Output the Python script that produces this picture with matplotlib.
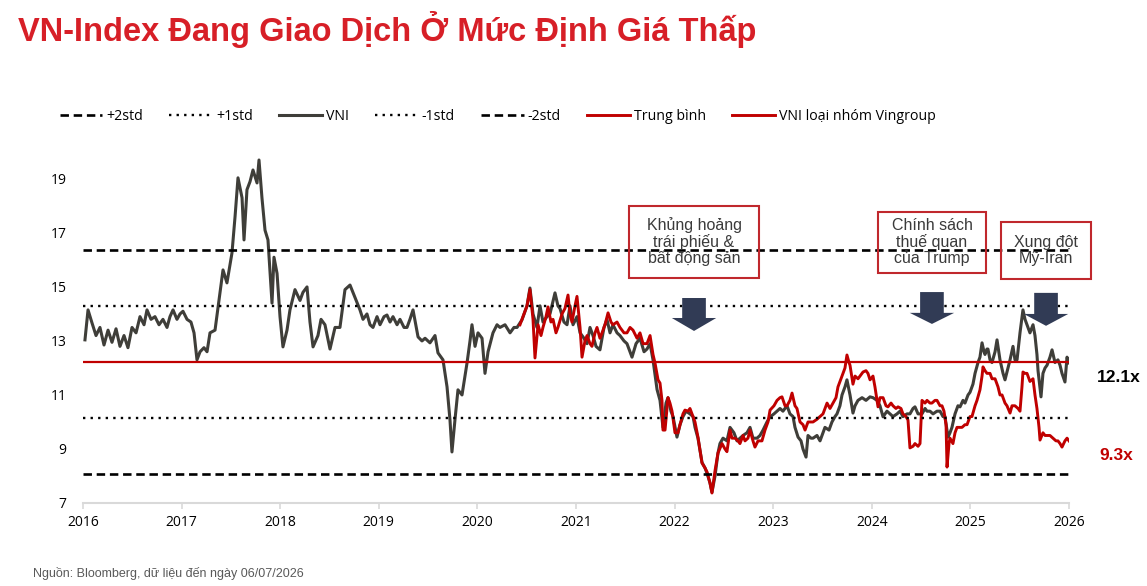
import matplotlib
matplotlib.use('Agg')
import numpy as np
import matplotlib.pyplot as plt
from matplotlib.lines import Line2D
from matplotlib.patches import Rectangle, Polygon

# --- data (decimal years, P/E multiple) ---
vni_t = [2016.020, 2016.051, 2016.091, 2016.132, 2016.172, 2016.213, 2016.254, 2016.294, 2016.335, 2016.375,
         2016.416, 2016.456, 2016.497, 2016.538, 2016.578, 2016.619, 2016.649, 2016.690, 2016.730, 2016.771,
         2016.811, 2016.852, 2016.882, 2016.913, 2016.953, 2016.984, 2017.014, 2017.055, 2017.095, 2017.126,
         2017.156, 2017.187, 2017.227, 2017.258, 2017.288, 2017.339, 2017.389, 2017.420, 2017.460, 2017.511,
         2017.542, 2017.572, 2017.613, 2017.633, 2017.663, 2017.694, 2017.724, 2017.765, 2017.785, 2017.815,
         2017.846, 2017.876, 2017.907, 2017.917, 2017.937, 2017.968, 2017.998, 2018.028, 2018.069, 2018.099,
         2018.150, 2018.201, 2018.231, 2018.272, 2018.302, 2018.333, 2018.383, 2018.414, 2018.454, 2018.505,
         2018.556, 2018.606, 2018.657, 2018.708, 2018.759, 2018.809, 2018.840, 2018.880, 2018.911, 2018.941,
         2018.982, 2019.012, 2019.053, 2019.083, 2019.114, 2019.144, 2019.185, 2019.215, 2019.256, 2019.286,
         2019.316, 2019.347, 2019.398, 2019.438, 2019.469, 2019.519, 2019.570, 2019.600, 2019.651, 2019.692,
         2019.722, 2019.742, 2019.773, 2019.803, 2019.844, 2019.895, 2019.925, 2019.945, 2019.976, 2020.006,
         2020.047, 2020.077, 2020.108, 2020.158, 2020.199, 2020.229, 2020.280, 2020.331, 2020.371, 2020.402,
         2020.452, 2020.503, 2020.533, 2020.564, 2020.604, 2020.635, 2020.665, 2020.706, 2020.736, 2020.787,
         2020.817, 2020.838, 2020.878, 2020.909, 2020.939, 2020.970, 2021.010, 2021.041, 2021.081, 2021.112,
         2021.142, 2021.172, 2021.203, 2021.243, 2021.284, 2021.314, 2021.345, 2021.375, 2021.416, 2021.446,
         2021.487, 2021.517, 2021.568, 2021.609, 2021.649, 2021.690, 2021.720, 2021.751, 2021.781, 2021.822,
         2021.852, 2021.882, 2021.913, 2021.933, 2021.963, 2021.984, 2022.024, 2022.055, 2022.085, 2022.116,
         2022.156, 2022.187, 2022.207, 2022.237, 2022.278, 2022.308, 2022.329, 2022.359, 2022.379, 2022.410,
         2022.440, 2022.460, 2022.491, 2022.531, 2022.562, 2022.602, 2022.633, 2022.663, 2022.694, 2022.734,
         2022.765, 2022.795, 2022.836, 2022.866, 2022.897, 2022.937, 2022.968, 2023.008, 2023.039, 2023.069,
         2023.099, 2023.140, 2023.170, 2023.201, 2023.221, 2023.252, 2023.282, 2023.302, 2023.333, 2023.353,
         2023.383, 2023.404, 2023.444, 2023.475, 2023.505, 2023.525, 2023.566, 2023.596, 2023.627, 2023.647,
         2023.677, 2023.698, 2023.728, 2023.748, 2023.779, 2023.809, 2023.830, 2023.860, 2023.901, 2023.941,
         2023.982, 2024.012, 2024.053, 2024.083, 2024.114, 2024.154, 2024.185, 2024.215, 2024.256, 2024.286,
         2024.316, 2024.357, 2024.387, 2024.418, 2024.438, 2024.469, 2024.509, 2024.540, 2024.560, 2024.590,
         2024.621, 2024.661, 2024.692, 2024.722, 2024.742, 2024.773, 2024.793, 2024.813, 2024.844, 2024.874,
         2024.895, 2024.925, 2024.945, 2024.976, 2024.996, 2025.026, 2025.047, 2025.077, 2025.097, 2025.118,
         2025.138, 2025.148, 2025.168, 2025.178, 2025.199, 2025.219, 2025.250, 2025.270, 2025.300, 2025.331,
         2025.351, 2025.381, 2025.402, 2025.432, 2025.452, 2025.473, 2025.503, 2025.533, 2025.554, 2025.574,
         2025.604, 2025.635, 2025.655, 2025.675, 2025.686, 2025.716, 2025.736, 2025.757, 2025.777, 2025.807,
         2025.828, 2025.858, 2025.888, 2025.909, 2025.929, 2025.959, 2025.980, 2026.000]
vni_pe = [13.04, 14.15, 13.67, 13.2, 13.5, 12.85, 13.4, 12.95, 13.45, 12.8,
          13.2, 12.75, 13.5, 13.3, 13.9, 13.6, 14.15, 13.8, 13.9, 13.6,
          13.8, 13.5, 13.9, 14.15, 13.8, 14.0, 14.1, 13.8, 13.7, 13.3,
          12.3, 12.6, 12.75, 12.6, 13.3, 13.4, 14.78, 15.63, 15.15, 16.26,
          17.6, 19.04, 18.3, 16.74, 18.6, 18.9, 19.33, 18.85, 19.7, 18.3,
          17.1, 16.74, 15.0, 14.4, 16.1, 15.5, 13.9, 12.78, 13.4, 14.15,
          14.9, 14.5, 14.8, 15.0, 13.7, 12.78, 13.2, 13.8, 13.6, 12.7,
          13.5, 13.5, 14.9, 15.07, 14.6, 14.15, 13.8, 14.0, 13.6, 13.5,
          13.9, 13.6, 13.9, 13.96, 13.7, 13.9, 13.6, 13.8, 13.5, 13.5,
          13.8, 14.15, 13.15, 13.0, 13.1, 12.93, 13.2, 12.56, 12.3, 11.3,
          10.07, 8.89, 10.1, 11.19, 11.0, 12.19, 13.0, 13.6, 12.8, 13.3,
          13.1, 11.8, 12.6, 13.3, 13.6, 13.5, 13.6, 13.3, 13.5, 13.5,
          13.78, 14.3, 14.96, 14.0, 13.5, 14.3, 13.7, 13.9, 14.0, 14.78,
          14.3, 14.2, 13.7, 13.6, 14.3, 13.6, 13.9, 13.3, 13.1, 12.9,
          13.5, 13.2, 12.8, 12.67, 13.5, 13.8, 13.3, 13.6, 13.3, 13.2,
          13.0, 12.9, 12.4, 12.9, 13.1, 12.6, 12.7, 12.9, 12.3, 11.2,
          10.8, 9.8, 10.7, 10.9, 10.4, 10.2, 9.44, 9.9, 10.2, 10.4,
          10.3, 10.2, 9.8, 9.4, 8.5, 8.3, 8.1, 7.74, 7.4, 8.0,
          8.85, 9.2, 9.4, 9.3, 9.8, 9.6, 9.3, 9.4, 9.5, 9.6,
          9.8, 9.4, 9.4, 9.5, 9.7, 10.0, 10.19, 10.3, 10.4, 10.5,
          10.4, 10.6, 10.3, 10.2, 9.8, 9.44, 9.3, 9.0, 8.7, 9.5,
          9.4, 9.4, 9.5, 9.3, 9.6, 9.8, 9.7, 10.0, 10.2, 10.3,
          10.6, 11.0, 11.3, 11.56, 11.0, 10.33, 10.6, 10.8, 10.9, 10.8,
          10.93, 10.9, 10.8, 10.6, 10.19, 10.4, 10.3, 10.2, 10.3, 10.4,
          10.2, 10.3, 10.3, 10.5, 10.56, 10.3, 10.3, 10.5, 10.4, 10.4,
          10.3, 10.4, 10.4, 10.2, 10.2, 9.44, 9.6, 9.8, 10.3, 10.6,
          10.56, 10.8, 10.7, 11.0, 11.1, 11.4, 11.8, 12.2, 12.4, 12.93,
          12.6, 12.5, 12.7, 12.7, 12.3, 12.2, 12.6, 13.04, 12.3, 11.8,
          11.56, 12.0, 12.3, 12.8, 12.3, 12.3, 13.3, 14.15, 13.8, 13.6,
          13.3, 13.6, 13.2, 12.5, 11.9, 10.93, 11.8, 12.0, 12.1, 12.4,
          12.67, 12.2, 12.3, 12.1, 11.8, 11.48, 12.4, 12.19]

exvin_t = [2020.432, 2020.462, 2020.503, 2020.533, 2020.564, 2020.584, 2020.615, 2020.645, 2020.665, 2020.696,
           2020.716, 2020.746, 2020.767, 2020.797, 2020.817, 2020.858, 2020.888, 2020.919, 2020.939, 2020.959,
           2020.990, 2021.010, 2021.041, 2021.061, 2021.091, 2021.112, 2021.142, 2021.162, 2021.193, 2021.213,
           2021.243, 2021.264, 2021.294, 2021.325, 2021.355, 2021.375, 2021.416, 2021.446, 2021.487, 2021.517,
           2021.548, 2021.578, 2021.619, 2021.649, 2021.680, 2021.720, 2021.751, 2021.781, 2021.801, 2021.832,
           2021.852, 2021.872, 2021.882, 2021.903, 2021.933, 2021.953, 2021.974, 2022.004, 2022.034, 2022.055,
           2022.085, 2022.105, 2022.136, 2022.156, 2022.187, 2022.207, 2022.237, 2022.278, 2022.308, 2022.329,
           2022.359, 2022.379, 2022.410, 2022.440, 2022.481, 2022.511, 2022.531, 2022.562, 2022.582, 2022.613,
           2022.643, 2022.663, 2022.694, 2022.714, 2022.744, 2022.765, 2022.795, 2022.815, 2022.846, 2022.886,
           2022.917, 2022.947, 2022.968, 2023.008, 2023.039, 2023.069, 2023.089, 2023.120, 2023.140, 2023.170,
           2023.191, 2023.221, 2023.241, 2023.272, 2023.302, 2023.323, 2023.353, 2023.373, 2023.404, 2023.444,
           2023.475, 2023.505, 2023.546, 2023.576, 2023.606, 2023.637, 2023.657, 2023.688, 2023.708, 2023.728,
           2023.748, 2023.769, 2023.779, 2023.809, 2023.830, 2023.860, 2023.880, 2023.911, 2023.941, 2023.961,
           2023.982, 2024.012, 2024.032, 2024.063, 2024.083, 2024.114, 2024.144, 2024.164, 2024.195, 2024.215,
           2024.245, 2024.266, 2024.296, 2024.316, 2024.347, 2024.367, 2024.387, 2024.418, 2024.438, 2024.469,
           2024.489, 2024.509, 2024.540, 2024.560, 2024.590, 2024.610, 2024.641, 2024.661, 2024.692, 2024.712,
           2024.732, 2024.753, 2024.763, 2024.783, 2024.793, 2024.823, 2024.844, 2024.864, 2024.895, 2024.915,
           2024.945, 2024.966, 2024.996, 2025.016, 2025.047, 2025.067, 2025.097, 2025.118, 2025.128, 2025.148,
           2025.168, 2025.199, 2025.219, 2025.250, 2025.280, 2025.300, 2025.321, 2025.351, 2025.371, 2025.402,
           2025.422, 2025.452, 2025.483, 2025.503, 2025.523, 2025.533, 2025.554, 2025.574, 2025.604, 2025.635,
           2025.655, 2025.675, 2025.696, 2025.706, 2025.736, 2025.757, 2025.787, 2025.807, 2025.838, 2025.868,
           2025.888, 2025.909, 2025.929, 2025.959, 2025.980, 2026.000]
exvin_pe = [13.6, 13.9, 14.3, 14.9, 13.8, 12.37, 13.6, 13.2, 13.5, 13.9,
            14.26, 13.7, 13.8, 13.3, 13.5, 14.0, 14.2, 14.7, 14.0, 13.7,
            14.3, 14.65, 13.5, 12.4, 13.0, 13.2, 12.9, 12.8, 13.3, 13.5,
            13.1, 13.3, 13.6, 14.04, 13.7, 13.6, 13.7, 13.5, 13.3, 13.3,
            13.5, 13.4, 13.1, 13.3, 12.9, 12.9, 13.2, 12.5, 12.19, 11.56,
            11.44, 10.8, 9.7, 9.7, 10.9, 10.7, 10.4, 9.6, 9.6, 9.9,
            10.3, 10.44, 10.4, 10.5, 10.2, 10.0, 9.44, 8.48, 8.3, 8.15,
            7.74, 7.37, 8.2, 8.85, 9.2, 9.0, 8.9, 9.7, 9.4, 9.4,
            9.3, 9.2, 9.5, 9.3, 9.4, 9.7, 9.3, 9.07, 9.3, 9.3,
            9.7, 10.0, 10.44, 10.6, 10.8, 10.9, 10.93, 10.6, 10.6, 10.8,
            11.07, 10.6, 10.5, 10.0, 9.9, 9.7, 10.0, 10.0, 10.0, 10.1,
            10.2, 10.3, 10.7, 10.5, 10.7, 10.9, 11.3, 11.6, 11.8, 12.0,
            12.48, 12.2, 12.1, 11.4, 11.7, 11.6, 11.7, 11.85, 11.9, 11.8,
            11.56, 11.7, 11.3, 10.56, 10.9, 10.9, 10.6, 10.56, 10.7, 10.6,
            10.5, 10.56, 10.5, 10.3, 10.2, 10.07, 9.04, 9.1, 9.2, 9.1,
            9.2, 10.8, 10.7, 10.8, 10.7, 10.7, 10.8, 10.8, 10.6, 10.6,
            10.4, 9.9, 8.33, 9.2, 9.4, 9.2, 9.6, 9.8, 9.8, 9.8,
            9.9, 9.9, 10.2, 10.2, 10.6, 10.8, 11.19, 11.7, 12.04, 11.9,
            11.8, 11.8, 11.6, 11.6, 11.3, 11.0, 11.0, 10.7, 10.6, 10.33,
            10.6, 10.6, 10.5, 10.4, 11.3, 11.85, 11.8, 11.8, 11.5, 11.6,
            11.0, 10.5, 9.8, 9.33, 9.6, 9.5, 9.5, 9.5, 9.4, 9.3,
            9.3, 9.2, 9.07, 9.3, 9.4, 9.3]

mean_pe = 12.22
std_pe = 2.07
years = list(range(2016, 2027))
yticks = [7, 9, 11, 13, 15, 17, 19]
last_vni = "12.1x"
last_exvin = "9.3x"

events = ["Khủng hoảng\ntrái phiếu &\nbất động sản", "Chính sách\nthuế quan\ncủa Trump", "Xung đột\nMỹ-Iran"]
event_t = [2022.197, 2024.61, 2025.767]

RED = '#c00000'
GRAY = '#3f3e39'
NAVY = '#313b55'
DASH = (0, (3.2, 1.8))
DOT = (0, (1, 2.2))

fig = plt.figure(figsize=(11.47, 5.86), dpi=100)
ax = fig.add_axes([83/1147, 1-503/586, 986/1147, 353/586])

ax.plot(vni_t, vni_pe, color=GRAY, lw=2.2, zorder=3)
ax.plot(exvin_t, exvin_pe, color=RED, lw=2.1, zorder=4)

x0, x1 = years[0], years[-1]
ax.hlines(mean_pe, x0, x1, color=RED, lw=1.6, zorder=5)
for k in (1, -1):
    ax.hlines(mean_pe + k*std_pe, x0, x1, color='black', lw=1.7, linestyles=DOT, zorder=5)
for k in (2, -2):
    ax.hlines(mean_pe + k*std_pe, x0, x1, color='black', lw=1.9, linestyles=DASH, zorder=5)

ax.set_xlim(x0, x1)
ax.set_ylim(7, 20.07)
ax.set_xticks(years)
ax.set_xticklabels([str(y) for y in years])
ax.set_yticks(yticks)
for s in ('top', 'right', 'left'):
    ax.spines[s].set_visible(False)
ax.spines['bottom'].set_color('#d9d9d9')
ax.spines['bottom'].set_linewidth(1.5)
ax.tick_params(axis='x', colors='#d9d9d9', length=4, width=1.2, labelcolor='black', labelsize=10, pad=5)
ax.tick_params(axis='y', length=0, labelsize=10, pad=12)
for lab in ax.get_xticklabels() + ax.get_yticklabels():
    lab.set_family('Open Sans')

# event boxes and arrows
box_w = [1.32, 1.10, 0.92]
box_h = [2.67, 2.26, 2.11]
box_cy = [16.67, 16.65, 16.36]
for t, txt, w, h, cy in zip(event_t, events, box_w, box_h, box_cy):
    ax.add_patch(Rectangle((t - w/2, cy - h/2), w, h, fill=False, edgecolor='#c0282d',
                           lw=1.5, clip_on=False, zorder=6))
    ax.text(t, cy, txt, ha='center', va='center', fontsize=11.5, color='#3a3a3a',
            family='Liberation Sans', linespacing=1.05, zorder=7)

arrow_top = [14.59, 14.81, 14.78]
arrow_neck = [13.85, 14.04, 14.0]
arrow_tip = [13.37, 13.63, 13.56]
for t, a, b, c in zip(event_t, arrow_top, arrow_neck, arrow_tip):
    sw, hw = 0.12, 0.225
    pts = [(t - sw, a), (t + sw, a), (t + sw, b), (t + hw, b), (t, c), (t - hw, b), (t - sw, b)]
    ax.add_patch(Polygon(pts, closed=True, color=NAVY, lw=0, zorder=8))

# end labels
fig.text(1097/1147, 1-378/586, last_vni, fontsize=12.5, fontweight='bold', color='black',
         family='Liberation Sans', va='center', ha='left')
fig.text(1099/1147, 1-455/586, last_exvin, fontsize=12.5, fontweight='bold', color=RED,
         family='Liberation Sans', va='center', ha='left')

# legend
handles = [Line2D([], [], color='black', lw=1.9, ls=DASH),
           Line2D([], [], color='black', lw=1.7, ls=DOT),
           Line2D([], [], color=GRAY, lw=2.2),
           Line2D([], [], color='black', lw=1.7, ls=DOT),
           Line2D([], [], color='black', lw=1.9, ls=DASH),
           Line2D([], [], color=RED, lw=2.1),
           Line2D([], [], color=RED, lw=2.1)]
labels = ['+2std', '+1std', 'VNI', '-1std', '-2std', 'Trung bình', 'VNI loại nhóm Vingroup']
fig.legend(handles, labels, loc='center left', bbox_to_anchor=(54/1147, 1-116/586), ncol=7,
           frameon=False, prop={'family': 'Open Sans', 'size': 10.2}, handlelength=3.0,
           handletextpad=0.3, columnspacing=1.85, borderaxespad=0)

fig.text(18/1147, 1-41/586, "VN-Index Đang Giao Dịch Ở Mức Định Giá Thấp", fontsize=23.5,
         fontweight='bold', color='#d71f27', family='Liberation Sans', va='baseline', ha='left')
fig.text(33/1147, 1-573/586, "Nguồn: Bloomberg, dữ liệu đến ngày 06/07/2026", fontsize=9,
         color='#595959', family='Liberation Sans', va='center', ha='left')

fig.savefig('out.png', dpi=100)
